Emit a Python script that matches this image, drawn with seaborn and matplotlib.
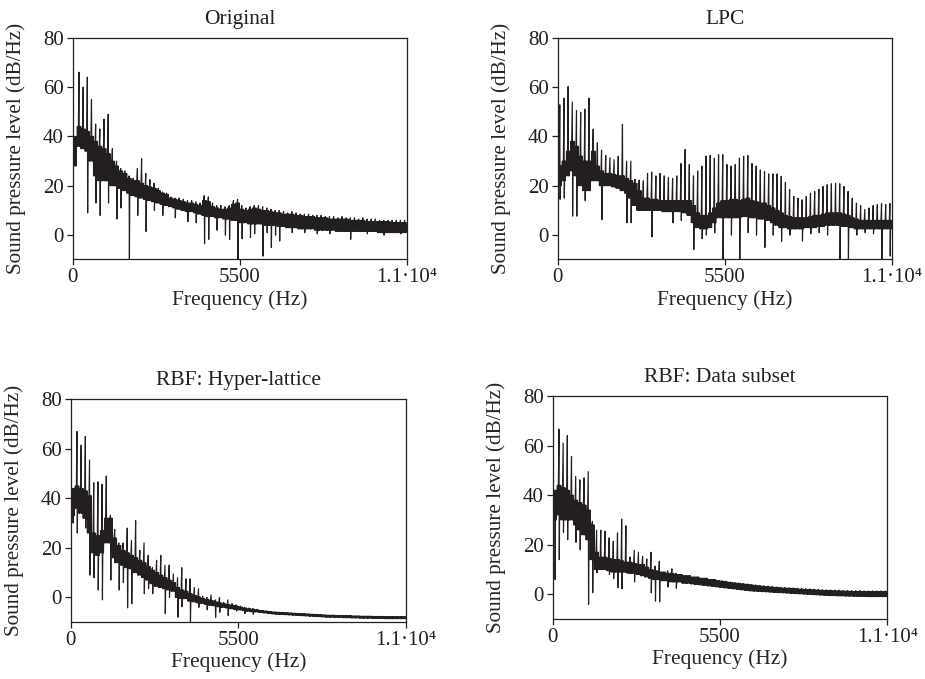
import matplotlib
matplotlib.use("Agg")
import matplotlib.pyplot as plt
import pandas as pd
import seaborn as sns

# ---------------- text ----------------
TITLES = ["Original", "LPC", "RBF: Hyper-lattice", "RBF: Data subset"]
X_LABEL = "Frequency (Hz)"
Y_LABEL = "Sound pressure level (dB/Hz)"
X_TICKS = [0, 5500, 11000]
X_TICK_LABELS = ["0", "5500", "1.1·10⁴"]
Y_TICKS = [0, 20, 40, 60, 80]

# ---------------- data (dB/Hz, one value per harmonic bin of 137.5 Hz) ----------------
N_BINS = 80
BIN_HZ = 137.5

# Original
orig_peak = [36, 66, 60, 64, 55, 45, 43, 47, 49, 35,
             30, 27, 26, 24, 23, 27, 31, 25, 22.5, 21,
             19, 17.5, 17, 15.5, 15, 15, 14.5, 14, 14, 13.5,
             13, 16, 15.5, 13, 12, 12, 11.5, 12, 14, 14.5,
             12, 11, 11.5, 12, 12, 11.5, 11, 10.5, 10, 10,
             9.5, 9, 9.5, 9, 8.5, 8.5, 8.5, 8, 8, 8,
             7.5, 7.5, 7.5, 7, 7.5, 7, 7, 7, 6.5, 7,
             6.5, 6.5, 6.5, 6, 6, 6, 6, 6, 6, 6]
orig_hi = [40, 44, 43, 42, 40, 38, 36, 35, 33, 30,
           28, 26, 25, 23, 22, 22, 21, 20, 19.5, 19,
           18, 17, 16.5, 15, 14.5, 14, 13.5, 13, 13, 12.5,
           12, 14, 13.5, 11.5, 11, 10.5, 10.5, 11, 12.5, 13,
           10.5, 10, 10.5, 11, 10.5, 10, 10, 9.5, 9, 9,
           8.5, 8.5, 8.5, 8, 8, 7.5, 7.5, 7.5, 7, 7,
           7, 6.5, 6.5, 6.5, 6.5, 6.5, 6, 6, 6, 6,
           5.5, 5.5, 5.5, 5.5, 5.5, 5.5, 5, 5, 5, 5]
orig_lo = [28, 36, 35, 34, 30, 24, 22, 22, 22, 20,
           20, 19, 18, 17, 16, 15.5, 15, 14.5, 14, 13.5,
           13, 12.5, 12, 11.5, 11, 10.5, 10, 9.5, 9.5, 9,
           8.5, 8, 7.5, 7.5, 7, 7, 6.5, 6.5, 6, 6,
           5, 5, 4.5, 4.5, 4.5, 4.5, 4, 4, 4, 3.5,
           3.5, 3, 3, 3, 2.5, 2.5, 2.5, 2.5, 2, 2,
           2, 2, 2, 1.5, 1.5, 1.5, 1.5, 1.5, 1.5, 1.5,
           1.5, 1.5, 1.5, 1, 1, 1, 1, 1, 1, 1]
orig_dips = {3: 9, 5: 13, 6: 8, 8: 13, 10: 6.5, 11: 11, 13: -9.8, 15: 8, 17: 1.5,
             19: 10, 21: 8, 24: 7, 27: 5.5, 29: 5, 31: -3.5, 32: -1.7, 34: 2, 36: 0,
             37: -1.7, 39: -9.8, 40: -1.5, 42: -1, 43: 0.5, 45: -8.5, 46: 1, 47: -5,
             48: 0, 49: -2.4, 52: 1, 55: 1, 58: 0.5, 61: 0.5, 66: -1.7, 70: 0.5,
             74: 0, 78: 0.5}

# LPC
lpc_peak = [52.8, 55.5, 60.2, 53.9, 50.5, 49.8, 51, 55.5, 43, 37.4,
            34.4, 32.3, 31.4, 30.6, 32, 44.8, 30, 30, 22.6, 22.3,
            22, 25, 25.5, 24, 25, 24, 23.3, 23, 24, 29,
            34.7, 28.6, 24, 26, 28, 32, 32.3, 31.2, 32.6, 32.6,
            28.6, 28, 28.6, 31.2, 32, 32.3, 29, 28, 26.4, 25.7,
            24.8, 24.8, 24.8, 23.8, 21.4, 18.4, 15.7, 15, 14.3, 15.7,
            17, 17.7, 18.6, 19.7, 20.4, 20.8, 21, 20.8, 19.7, 17.7,
            15, 13, 12, 10.4, 11, 12, 12.4, 12.8, 12.4, 12.8]
lpc_hi = [28, 30, 34, 38, 36, 32, 30, 30, 34, 28,
          26, 25, 25, 24.5, 24, 24, 23, 22, 21, 18,
          15, 15, 14.5, 14.5, 14, 14, 14, 14, 14, 14,
          14, 14, 12, 9, 8, 8, 9, 11, 13, 14,
          14, 14.5, 14.5, 14, 14.5, 15, 14, 13.5, 13, 13,
          12, 11, 10, 9, 8, 7.5, 7, 7, 7, 7,
          7.5, 8, 8, 8.5, 9, 9, 9, 9, 8.5, 8,
          7, 6.5, 6, 6, 6, 6, 6, 6, 6, 6]
lpc_lo = [20, 22, 24, 26, 24, 20, 18, 18, 22, 22,
          20, 20, 20, 19.5, 19, 18, 17, 15, 12, 10,
          10, 10, 10, 10, 10, 9.5, 9.5, 9.5, 9.5, 9.5,
          9, 8, 5, 3, 2.5, 2.5, 3, 5, 7, 7,
          7, 7, 7, 7, 7.5, 7.5, 7, 7, 6.5, 6.5,
          6, 5, 4, 3, 3, 2.5, 2.5, 2.5, 2.5, 3,
          3, 3, 3.5, 3.5, 4, 4, 4, 4, 3.5, 3.5,
          3, 2.5, 2.5, 2.5, 2.5, 2.5, 2.5, 2.5, 2.5, 2.5]
lpc_dips = {0: 14.5, 1: 15, 3: 7.7, 4: 7.7, 6: 14, 10: 6.3, 16: 5, 17: 5, 22: -0.7,
            27: 5, 29: 6, 32: -5.8, 34: -1.5, 35: 0, 37: 1, 39: -9.8, 41: 0, 43: -9.8,
            45: 1, 47: 0, 49: -5, 51: 0, 53: -2.5, 55: 0, 58: -2.4, 60: 0.5, 62: 1,
            64: 0, 67: -9.8, 69: -9.8, 71: 0, 73: 1, 75: 0.5, 77: -9.8, 79: -8.5}

# RBF: Hyper-lattice
hyp_peak = [42, 67, 61.5, 65, 55.5, 46.3, 46.7, 45.7, 49, 33.2,
            27.4, 22, 22, 28, 23, 31, 19, 22, 17, 12,
            15, 17, 13, 13, 9.5, 8, 12, 7.5, 7.5, 4,
            3.5, 0.5, 0, 1, -1, 0, -2, -1, -2.5, -3,
            -3.5, -4, -4.3, -4.5, -4.8, -5.3, -5.5, -5.7, -5.9, -6,
            -6.1, -6.2, -6.3, -6.4, -6.5, -6.6, -6.7, -6.8, -6.9, -7,
            -7.1, -7.2, -7.2, -7.3, -7.3, -7.4, -7.4, -7.5, -7.5, -7.6,
            -7.6, -7.6, -7.7, -7.7, -7.7, -7.8, -7.8, -7.8, -7.8, -7.8]
hyp_hi = [44, 45, 44, 43, 41, 26, 25, 27, 32, 32,
          24, 21, 19, 18, 17, 16, 15, 14, 12.5, 11,
          10, 9, 8, 7, 6, 4, 3, 2.5, 1.5, 0.8,
          0.2, -0.4, -0.8, -1.2, -1.8, -2.2, -2.6, -2.9, -3.2, -3.5,
          -3.9, -4.3, -4.6, -4.8, -5.1, -5.3, -5.5, -5.7, -5.9, -6,
          -6.1, -6.2, -6.3, -6.4, -6.5, -6.6, -6.7, -6.8, -6.9, -7,
          -7.1, -7.2, -7.2, -7.3, -7.3, -7.4, -7.4, -7.5, -7.5, -7.6,
          -7.6, -7.6, -7.7, -7.7, -7.7, -7.8, -7.8, -7.8, -7.8, -7.8]
hyp_lo = [33, 36, 34, 32, 26, 18, 17, 18, 22, 22,
          16, 14, 13, 12, 11.5, 10, 9, 8, 7, 5.5,
          4.5, 4, 3.5, 3, 2.5, 0, -0.5, -0.5, -1.5, -1.8,
          -2.2, -2.4, -2.8, -3.2, -3.4, -3.8, -4, -4.3, -4.6, -4.9,
          -5.1, -5.3, -5.6, -5.8, -5.9, -6.1, -6.3, -6.5, -6.7, -6.8,
          -6.9, -7, -7.1, -7.2, -7.3, -7.4, -7.5, -7.6, -7.7, -7.8,
          -7.9, -8, -8, -8.1, -8.1, -8.2, -8.2, -8.3, -8.3, -8.4,
          -8.4, -8.4, -8.5, -8.5, -8.5, -8.6, -8.6, -8.6, -8.6, -8.6]
hyp_dips = {0: 30, 1: 26, 3: 28, 4: 9, 5: 8, 6: 3, 7: -1, 9: 7, 10: 14, 11: 3, 12: 6,
            13: -4.2, 14: -2.5, 16: 9, 17: 1.5, 18: 3.6, 19: 1.5, 20: 5, 22: -6.6,
            23: 0, 25: -8, 26: -3.8, 27: 1, 28: -9.8, 30: -4, 32: -5, 34: -8, 35: -6,
            37: -7.3, 39: -5.5, 41: -6.5, 43: -6.8}

# RBF: Data subset
dat_peak = [40, 66.6, 61, 64, 55.6, 47.6, 46.2, 47, 49.5, 29.5,
            25.9, 25.9, 25.5, 22.8, 21.4, 24.8, 30.4, 27.7, 15.1, 17.8,
            17, 15.4, 14.3, 17, 11.4, 13.4, 8.7, 9.5, 10.3, 8.5,
            8, 7.5, 6, 6.5, 5.5, 5.5, 5.5, 5.6, 5, 4.8,
            5.5, 5.3, 5, 4.8, 4.6, 4.4, 4.2, 4, 3.8, 3.6,
            3.5, 3.3, 3.2, 3, 2.9, 2.8, 2.7, 2.6, 2.5, 2.4,
            2.3, 2.2, 2.1, 2, 1.9, 1.8, 1.8, 1.7, 1.7, 1.6,
            1.6, 1.5, 1.5, 1.5, 1.4, 1.4, 1.4, 1.4, 1.4, 1.4]
dat_hi = [42, 44, 43, 42, 40, 38, 37, 36, 34, 28,
          17, 15, 15, 14.5, 14, 14, 13.5, 13, 13, 12.5,
          12, 12, 11, 10, 9.5, 9, 9, 8.5, 8.5, 8,
          8, 7.5, 7.5, 7, 7, 6.5, 6.5, 6, 6, 5.5,
          5.3, 5, 4.8, 4.6, 4.4, 4.2, 4, 3.8, 3.6, 3.4,
          3.2, 3, 2.9, 2.8, 2.6, 2.5, 2.4, 2.3, 2.2, 2.1,
          2, 1.9, 1.8, 1.7, 1.6, 1.5, 1.5, 1.4, 1.4, 1.3,
          1.3, 1.2, 1.2, 1.2, 1.1, 1.1, 1.1, 1.1, 1.1, 1.1]
dat_lo = [30, 32, 30, 30, 30, 28, 26, 24, 22, 14,
          10, 10, 10, 9.5, 9, 9, 9, 9, 8.5, 8.5,
          8, 7.5, 7, 6.5, 6, 6, 5.5, 5.5, 5, 5,
          5, 4.5, 4.5, 4.2, 4, 3.8, 3.6, 3.4, 3.2, 3,
          2.8, 2.6, 2.4, 2.2, 2, 1.8, 1.6, 1.4, 1.3, 1.2,
          1.1, 1, 0.9, 0.8, 0.7, 0.6, 0.5, 0.4, 0.3, 0.2,
          0.1, 0, -0.1, -0.2, -0.3, -0.4, -0.5, -0.5, -0.6, -0.6,
          -0.7, -0.7, -0.8, -0.8, -0.8, -0.9, -0.9, -0.9, -0.9, -0.9]
dat_dips = {0: 6, 1: 14, 2: 25, 3: 22, 5: 21, 6: 18, 8: -4, 9: 0.7, 10: 8.7, 13: 8,
            14: 6.4, 15: 2.7, 16: 2.3, 17: 8.7, 19: 5, 22: 7.4, 23: 0.6, 24: -2.7,
            25: -3, 27: 3, 29: 2.5}

PANELS = [
    (orig_peak, orig_hi, orig_lo, orig_dips),
    (lpc_peak, lpc_hi, lpc_lo, lpc_dips),
    (hyp_peak, hyp_hi, hyp_lo, hyp_dips),
    (dat_peak, dat_hi, dat_lo, dat_dips),
]

# ---------------- style ----------------
INK = "#231f20"
sns.set_theme(style="ticks")
plt.rcParams["font.family"] = ["Liberation Serif", "DejaVu Serif"]
plt.rcParams["axes.edgecolor"] = INK
plt.rcParams["axes.linewidth"] = 0.9
plt.rcParams["xtick.color"] = INK
plt.rcParams["ytick.color"] = INK
plt.rcParams["text.color"] = INK

# order in which the band / harmonic spike / dip values are visited inside one bin
VISIT = [(0.00, "lo"), (0.12, "hi"), (0.24, "lo"), (0.36, "hi"), (0.50, "peak"),
         (0.58, "dip"), (0.70, "hi"), (0.82, "lo"), (0.92, "hi")]


def spectrum_frame(peak, hi, lo, dips):
    xs, ys = [], []
    for i in range(N_BINS):
        vals = {"lo": lo[i], "hi": hi[i], "peak": max(peak[i], hi[i]),
                "dip": min(dips.get(i, lo[i]), lo[i])}
        for frac, key in VISIT:
            xs.append((i + frac) * BIN_HZ)
            ys.append(vals[key])
    return pd.DataFrame({"freq": xs, "spl": ys})


fig = plt.figure(figsize=(9.25, 6.79), dpi=100)
POS = [
    [0.0786, 0.6181, 0.3611, 0.3264],
    [0.6029, 0.6181, 0.3614, 0.3264],
    [0.0764, 0.0844, 0.3625, 0.3275],
    [0.5975, 0.0888, 0.3617, 0.3280],
]

for k, (title, pos, (pk, hi, lo, dp)) in enumerate(zip(TITLES, POS, PANELS)):
    ax = fig.add_axes(pos)
    df = spectrum_frame(pk, hi, lo, dp)
    sns.lineplot(data=df, x="freq", y="spl", ax=ax, sort=False, estimator=None,
                 color=INK, lw=0.85)
    ax.set_xlim(0, 11000)
    ax.set_ylim(-9.8, 80)
    ax.set_xticks(X_TICKS)
    ax.set_xticklabels(X_TICK_LABELS)
    ax.set_yticks(Y_TICKS)
    ax.tick_params(axis="both", direction="out", length=4, width=0.9,
                   labelsize=15, pad=2.5)
    for s in ax.spines.values():
        s.set_visible(True)
        s.set_color(INK)
    ax.set_title(title, fontsize=15.5, pad=10)
    ax.set_xlabel(X_LABEL, fontsize=15.5, labelpad=2)
    ax.set_ylabel(Y_LABEL, fontsize=15.2)
    ax.yaxis.set_label_coords(-0.14, 0.5)

fig.savefig("out.png", dpi=100)
